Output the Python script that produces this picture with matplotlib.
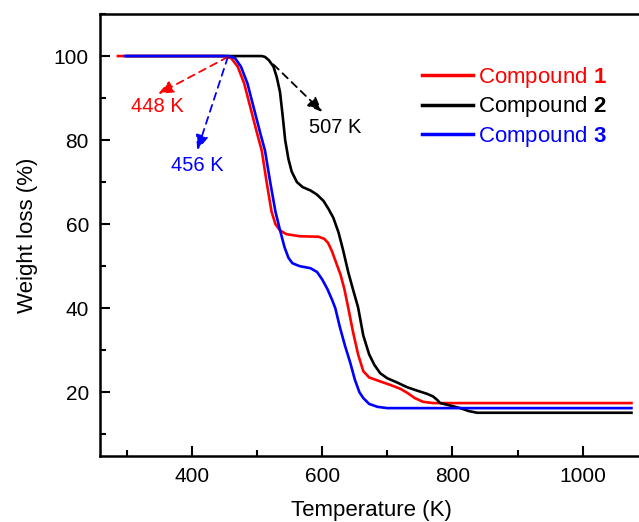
import matplotlib
matplotlib.use('Agg')
import matplotlib.pyplot as plt
from matplotlib.ticker import MultipleLocator

plt.rcParams['font.family'] = ['Liberation Sans', 'DejaVu Sans']
plt.rcParams['mathtext.fontset'] = 'custom'
plt.rcParams['mathtext.rm'] = 'Liberation Sans'
plt.rcParams['mathtext.bf'] = 'Liberation Sans:bold'

# TGA curves (temperature in K, weight in %)
t1 = [286, 448, 460, 470, 480, 490, 500, 507, 515, 522, 528, 535, 545, 566, 594,
      603, 609, 615, 622, 628, 634, 640, 647, 655, 663, 672, 690, 705, 720, 731,
      742, 755, 770, 1075]
w1 = [100, 100, 99.5, 97.5, 93.5, 87.5, 81.5, 77.5, 69.5, 63, 60, 58.5, 57.6, 57.1, 57,
      56.5, 55.5, 53.5, 50.5, 48, 44.5, 40, 34.5, 29, 25, 23.5, 22.5, 21.7, 20.8, 19.8,
      18.6, 17.7, 17.4, 17.4]

t2 = [300, 507, 512, 518, 525, 530, 535, 539, 543, 548, 553, 561, 570, 582, 592,
      602, 610, 617, 625, 632, 640, 648, 655, 663, 672, 680, 689, 700, 715, 730,
      745, 761, 770, 777, 781, 797, 812, 825, 838, 1075]
w2 = [100, 100, 99.8, 99, 97.5, 95, 91.5, 86, 80, 75.5, 72.5, 70, 68.8, 68, 67,
      65.5, 63.5, 61.5, 58, 53.8, 48.5, 44, 40.2, 33.5, 29, 26.5, 24.5, 23.3, 22.3, 21.2,
      20.4, 19.6, 19, 18.1, 17.4, 16.8, 16.2, 15.5, 15.1, 15.1]

t3 = [297, 456, 466, 475, 485, 495, 505, 512, 520, 528, 535, 542, 548, 554, 565,
      582, 592, 600, 608, 615, 620, 627, 635, 643, 650, 657, 663, 672, 685, 700, 1075]
w3 = [100, 100, 99.5, 97.5, 93.5, 87.5, 81.5, 77.5, 70, 63, 58.6, 54.5, 52, 50.7, 50,
      49.5, 48.6, 46.8, 44.5, 42, 40, 35.5, 31, 27, 23, 20, 18.6, 17.2, 16.5, 16.2, 16.2]

labels = ['Compound $\\mathbf{1}$', 'Compound $\\mathbf{2}$', 'Compound $\\mathbf{3}$']
colors = ['#ff0000', '#000000', '#0000ff']

# onset temperature annotations: (text, arrow start, arrow tip, text position, colour)
onsets = [
    ('448 K', (455, 99.8), (348, 91.0), (346, 87.9), '#ff0000'),
    ('456 K', (455, 99.8), (408, 77.6), (408, 74.0), '#0000ff'),
    ('507 K', (525, 98.0), (600, 86.7), (620, 83.1), '#000000'),
]

fig = plt.figure(figsize=(6.39, 5.22), dpi=100)
ax = fig.add_axes([0.1565, 0.1264, 0.85, 0.8467])

for t, w, lab, c in zip([t1, t2, t3], [w1, w2, w3], labels, colors):
    ax.plot(t, w, color=c, lw=1.9, label=lab)

for txt, start, tip, pos, c in onsets:
    ax.annotate('', xy=tip, xytext=start,
                arrowprops=dict(arrowstyle='-|>,head_length=0.9,head_width=0.38',
                                linestyle=(0, (4, 3)), color=c, lw=1.3,
                                shrinkA=0, shrinkB=0))
    ax.text(pos[0], pos[1], txt, color=c, fontsize=14.5, ha='center', va='center')

ax.set_xlim(258.5, 1093)
ax.set_ylim(4.8, 110)
ax.xaxis.set_major_locator(MultipleLocator(200))
ax.xaxis.set_minor_locator(MultipleLocator(100))
ax.yaxis.set_major_locator(MultipleLocator(20))
ax.yaxis.set_minor_locator(MultipleLocator(10))
ax.tick_params(which='both', direction='in', width=1.5, labelsize=15, pad=8)
ax.tick_params(which='major', length=7)
ax.tick_params(which='minor', length=4)
for s in ax.spines.values():
    s.set_linewidth(1.8)
ax.spines['right'].set_visible(False)

ax.set_xlabel('Temperature (K)', fontsize=16, labelpad=10)
ax.set_ylabel('Weight loss (%)', fontsize=16, labelpad=11)

leg = ax.legend(loc='upper left', bbox_to_anchor=(0.593, 0.885), frameon=False,
                fontsize=16, handlelength=2.3, handletextpad=0.2,
                labelspacing=0.2, borderpad=0, borderaxespad=0,
                labelcolor='linecolor')
for line in leg.get_lines():
    line.set_linewidth(2.5)

fig.savefig('out.png', dpi=100, facecolor='white')
